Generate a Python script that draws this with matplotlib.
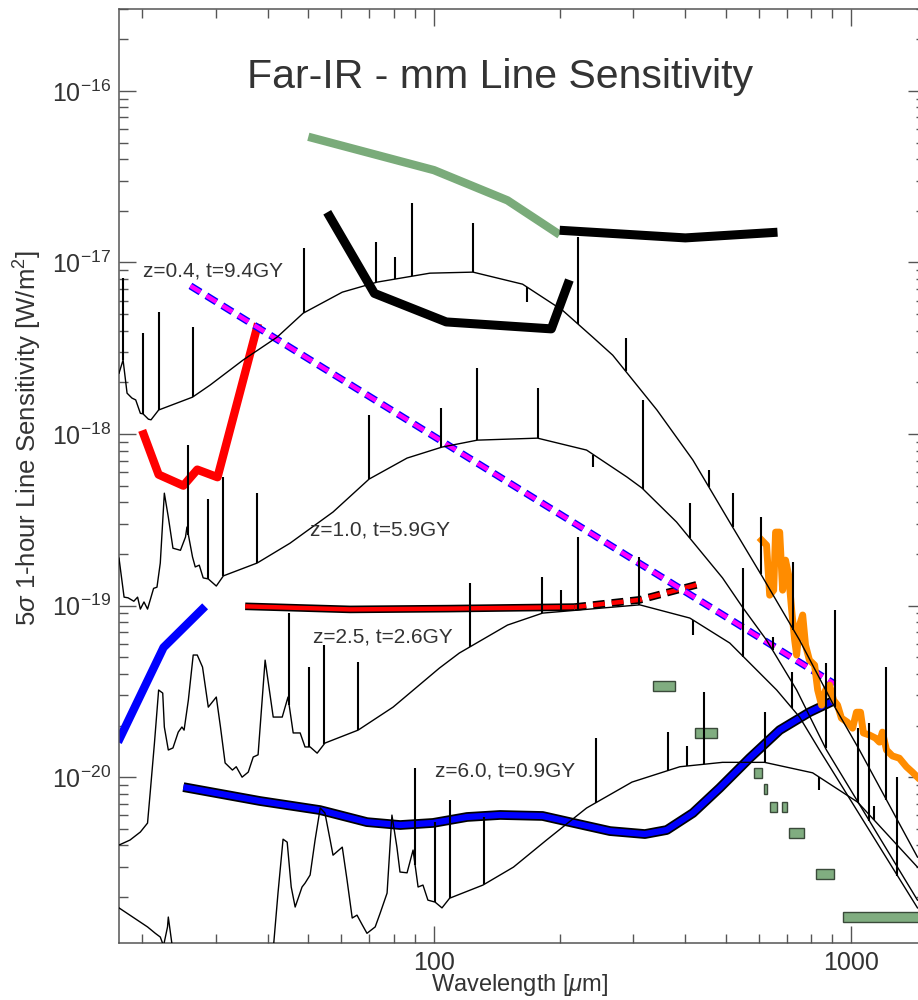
import numpy as np
import matplotlib
matplotlib.use('Agg')
import matplotlib.pyplot as plt
from matplotlib.patches import Rectangle
from matplotlib.ticker import FixedLocator, LogLocator, NullFormatter, FuncFormatter

plt.rcParams['font.family'] = ['Liberation Sans', 'DejaVu Sans']
plt.rcParams['mathtext.fontset'] = 'custom'
plt.rcParams['mathtext.rm'] = 'Liberation Sans'
plt.rcParams['mathtext.it'] = 'Liberation Sans:italic'
plt.rcParams['mathtext.bf'] = 'Liberation Sans:bold'
plt.rcParams['lines.scale_dashes'] = False

# model galaxy SEDs: continuum (wavelength [um], flux [W/m^2]) + line tips
z04_wl = [17.6, 18.0, 18.4, 18.9, 19.3, 19.8, 20.1, 20.7, 21.0, 21.9, 26.4, 29.1, 34.9, 42.1, 48.6,
          60.3, 73.1, 97.8, 124, 163, 203, 240, 268, 342, 417, 519, 612, 751, 901, 1045, 1439]
z04_f = [2.26e-18, 2.70e-18, 1.73e-18, 1.62e-18, 1.58e-18, 1.32e-18, 1.31e-18, 1.22e-18, 1.21e-18,
         1.38e-18, 1.64e-18, 1.93e-18, 2.70e-18, 3.67e-18, 5.06e-18, 6.71e-18, 7.68e-18, 8.66e-18,
         8.78e-18, 7.47e-18, 5.27e-18, 3.67e-18, 2.88e-18, 1.38e-18, 7.05e-19, 2.87e-19, 1.47e-19,
         6.29e-20, 2.70e-20, 1.44e-20, 3.42e-21]
z04_line_wl = [18.0, 20.1, 22.0, 26.4, 48.9, 72.6, 80.7, 88.6, 124, 167, 221, 288, 455, 519, 606,
               726, 911, 1213]
z04_line_f = [8.10e-18, 3.87e-18, 5.13e-18, 4.20e-18, 1.21e-17, 1.31e-17, 1.07e-17, 2.22e-17,
              1.69e-17, 5.87e-18, 1.40e-17, 3.62e-18, 6.16e-19, 4.52e-19, 3.28e-19, 1.79e-19,
              9.42e-20, 4.38e-20]

z10_wl = [17.6, 18.1, 18.5, 19.1, 19.5, 19.8, 20.2, 20.6, 21.3, 21.7, 22.1, 22.6, 23.1, 23.7, 24.7,
          25.4, 25.6, 26.4, 26.8, 27.4, 28.0, 28.8, 30.1, 31.3, 37.7, 45.2, 57.3, 69.9, 86.2, 104.5,
          127, 177, 232, 290, 315, 381, 491, 548, 626, 739, 871, 1439]
z10_f = [1.89e-19, 1.12e-19, 1.11e-19, 1.06e-19, 1.12e-19, 9.54e-20, 1.05e-19, 9.54e-20, 1.26e-19,
         1.28e-19, 1.77e-19, 4.52e-19, 3.28e-19, 2.16e-19, 2.10e-19, 2.51e-19, 2.87e-19, 1.92e-19,
         1.68e-19, 1.72e-19, 1.45e-19, 1.43e-19, 1.30e-19, 1.49e-19, 1.77e-19, 2.31e-19, 3.51e-19,
         5.46e-19, 7.24e-19, 8.39e-19, 9.21e-19, 9.46e-19, 8.06e-19, 5.61e-19, 4.84e-19, 3.07e-19,
         1.45e-19, 9.80e-20, 6.29e-20, 3.22e-20, 1.44e-20, 1.92e-21]
z10_line_wl = [25.8, 28.8, 31.3, 37.7, 69.9, 104, 127, 177, 241, 316, 410, 647, 867, 1104]
z10_line_f = [8.61e-19, 4.17e-19, 5.61e-19, 4.52e-19, 1.29e-18, 1.42e-18, 2.42e-18, 1.85e-18,
              6.42e-19, 1.58e-18, 3.96e-19, 6.55e-20, 4.62e-20, 2.07e-20]

z25_wl = [17.6, 18.7, 19.8, 20.6, 20.9, 21.4, 21.9, 22.4, 22.6, 23.1, 23.7, 24.4, 24.9, 25.2, 25.8,
          26.5, 27.1, 27.9, 28.8, 30.1, 30.8, 31.6, 32.9, 33.6, 34.7, 35.9, 36.9, 37.9, 39.4, 41.2,
          43.3, 44.7, 46.0, 47.8, 49.1, 50.5, 52.5, 54.8, 65.8, 79.8, 103, 115, 150, 182, 311, 410,
          511, 662, 751, 838, 1439]
z25_f = [4.02e-21, 4.30e-21, 4.79e-21, 5.40e-21, 8.08e-21, 1.58e-20, 3.22e-20, 3.09e-20, 1.96e-20,
         1.44e-20, 1.48e-20, 1.83e-20, 1.96e-20, 1.88e-20, 2.81e-20, 5.15e-20, 5.15e-20, 4.38e-20,
         2.56e-20, 2.93e-20, 1.96e-20, 1.21e-20, 1.10e-20, 1.15e-20, 1.00e-20, 1.07e-20, 1.31e-20,
         1.35e-20, 4.81e-20, 2.24e-20, 2.24e-20, 2.93e-20, 1.81e-20, 1.81e-20, 1.50e-20, 1.50e-20,
         1.38e-20, 1.58e-20, 1.88e-20, 2.56e-20, 4.32e-20, 5.29e-20, 7.70e-20, 9.04e-20, 1.01e-19,
         8.46e-20, 6.05e-20, 3.22e-20, 2.24e-20, 1.44e-20, 1.73e-21]
z25_line_wl = [45.0, 50.2, 54.6, 65.8, 122, 181, 201, 221, 309, 417, 551, 719, 1288]
z25_line_f = [9.04e-20, 4.38e-20, 5.89e-20, 4.68e-20, 1.35e-19, 1.47e-19, 1.23e-19, 2.51e-19,
              1.92e-19, 6.72e-20, 1.65e-19, 4.10e-20, 1.00e-20]

z60_wl = [17.6, 20.6, 21.5, 22.1, 22.5, 23.0, 23.1, 23.6, 30.0, 41.0, 42.3, 43.5, 44.5, 45.5, 46.5,
          48.3, 49.1, 50.5, 51.9, 53.4, 54.8, 56.4, 57.3, 60.3, 61.9, 63.7, 65.4, 67.3, 69.1, 72.3,
          74.3, 77.2, 79.3, 81.5, 82.9, 86.2, 89.1, 91.6, 94.1, 96.7, 100.6, 104.5, 109, 131, 155,
          186, 232, 298, 388, 491, 619, 807, 1034, 1439]
z60_f = [1.73e-21, 1.34e-21, 1.23e-21, 1.17e-21, 1.04e-21, 1.34e-21, 1.53e-21, 1.04e-21, 6e-22,
         8.6e-22, 2.11e-21, 4.35e-21, 4.18e-21, 2.29e-21, 1.75e-21, 2.29e-21, 2.41e-21, 2.69e-21,
         4.30e-21, 6.61e-21, 6.18e-21, 4.30e-21, 3.51e-21, 3.91e-21, 2.52e-21, 1.51e-21, 1.57e-21,
         1.38e-21, 1.23e-21, 1.34e-21, 1.61e-21, 2.11e-21, 6.01e-21, 3.91e-21, 2.80e-21, 2.77e-21,
         3.76e-21, 2.29e-21, 2.35e-21, 1.92e-21, 1.87e-21, 1.73e-21, 1.97e-21, 2.35e-21, 2.99e-21,
         4.30e-21, 6.61e-21, 9.36e-21, 1.15e-20, 1.22e-20, 1.22e-20, 1.06e-20, 7.16e-21, 2.99e-21]
z60_line_wl = [90.1, 100.6, 109, 132, 244, 363, 403, 443, 619, 834, 1039, 1135]
z60_line_f = [1.13e-20, 5.47e-21, 7.35e-21, 5.85e-21, 1.69e-20, 1.83e-20, 1.52e-20, 3.13e-20,
              2.39e-20, 8.41e-21, 1.93e-20, 6.82e-21]

# instrument sensitivities
green_wl = [50, 100, 150, 200]
green_f = [5.4e-17, 3.45e-17, 2.3e-17, 1.45e-17]
blk_hi_wl = [200, 400, 665]
blk_hi_f = [1.54e-17, 1.39e-17, 1.50e-17]
blk_lo_wl = [55.5, 72, 107, 191, 211]
blk_lo_f = [1.96e-17, 6.6e-18, 4.5e-18, 4.1e-18, 7.9e-18]
red_wl = [20.0, 21.9, 25.1, 27.1, 30.3, 37.9]
red_f = [1.05e-18, 5.8e-19, 5.0e-19, 6.2e-19, 5.6e-19, 4.4e-18]
blue_wl = [17.5, 22.5, 28.3]
blue_f = [1.6e-20, 5.7e-20, 9.9e-20]
redk_wl = [35.3, 63, 108, 217]
redk_f = [9.9e-20, 9.5e-20, 9.6e-20, 9.8e-20]
redk_dash_wl = [217, 311, 430]
redk_dash_f = [9.8e-20, 1.08e-19, 1.33e-19]
mag_wl = [26.1, 910]
mag_f = [7.3e-18, 3.5e-20]
bluek_wl = [25.1, 38.3, 53.3, 69.1, 83.0, 99.5, 120, 144, 182, 211.5, 264, 320, 361, 417, 483,
            570, 673, 793, 901]
bluek_f = [8.75e-21, 7.26e-21, 6.43e-21, 5.47e-21, 5.26e-21, 5.41e-21, 5.86e-21, 6.02e-21,
           5.94e-21, 5.47e-21, 4.85e-21, 4.66e-21, 4.92e-21, 6.18e-21, 8.63e-21, 1.29e-20,
           1.88e-20, 2.39e-20, 2.77e-20]
orange_wl = [609, 626, 637, 651, 658, 673, 684, 695, 707, 719, 731, 739, 751, 764, 776, 793, 816,
             830, 848, 867, 886, 906, 926, 946, 978, 1006, 1028, 1051, 1068, 1104, 1141, 1167,
             1186, 1213, 1253, 1302, 1354, 1399, 1439]
orange_f = [2.41e-19, 2.25e-19, 1.15e-19, 1.23e-19, 2.68e-19, 2.68e-19, 1.23e-19, 1.84e-19,
            1.51e-19, 9.42e-20, 6.29e-20, 5.15e-20, 7.70e-20, 8.81e-20, 5.89e-20, 4.81e-20,
            4.50e-20, 3.22e-20, 2.63e-20, 3.22e-20, 3.44e-20, 2.81e-20, 2.63e-20, 2.21e-20,
            2.09e-20, 1.93e-20, 2.39e-20, 2.39e-20, 1.81e-20, 1.76e-20, 1.69e-20, 1.60e-20,
            1.83e-20, 1.44e-20, 1.33e-20, 1.29e-20, 1.15e-20, 1.07e-20, 1.00e-20]
band_lo = [334, 421, 583, 616, 637, 680, 707, 820, 952]
band_hi = [377, 475, 609, 626, 662, 699, 768, 906, 1600]
band_f = [3.40e-20, 1.81e-20, 1.06e-20, 8.52e-21, 6.69e-21, 6.69e-21, 4.72e-21, 2.71e-21, 1.54e-21]

ytick_vals = [1e-20, 1e-19, 1e-18, 1e-17, 1e-16]
xtick_vals = [100, 1000]

fig = plt.figure(figsize=(9.18, 10), dpi=100)
ax = fig.add_axes([119/918, 57/1000, 806/918, 934/1000])
ax.set_xscale('log')
ax.set_yscale('log')
ax.set_xlim(17.6, 1500)
ax.set_ylim(1.08e-21, 3.0e-16)

# thick instrument curves
ax.plot(green_wl, green_f, color='#7aab7a', lw=6, solid_capstyle='butt', zorder=2)
ax.plot(blk_hi_wl, blk_hi_f, color='k', lw=6.5, solid_capstyle='butt', zorder=2)
ax.plot(blk_lo_wl, blk_lo_f, color='k', lw=6.5, solid_capstyle='butt', zorder=2)
ax.plot(red_wl, red_f, color='#ff0000', lw=6, solid_capstyle='butt', zorder=2)
ax.plot(blue_wl, blue_f, color='#0000ff', lw=6, solid_capstyle='butt', zorder=2)

ax.plot(redk_wl, redk_f, color='k', lw=5.5, solid_capstyle='butt', zorder=2)
ax.plot(redk_wl, redk_f, color='#ff0000', lw=3.2, solid_capstyle='butt', zorder=2)
ax.plot(redk_dash_wl, redk_dash_f, color='k', lw=5.5, dashes=(8.5, 5), zorder=2)
ax.plot(redk_dash_wl, redk_dash_f, color='#ff0000', lw=3.2, dashes=(8.5, 5), zorder=2)

ax.plot(mag_wl, mag_f, color='#0000ff', lw=5.2, dashes=(8.5, 5), zorder=2)
ax.plot(mag_wl, mag_f, color='#ff00ff', lw=3.2, dashes=(8.5, 5), zorder=2)

ax.plot(bluek_wl, bluek_f, color='k', lw=7, solid_capstyle='butt', zorder=2)
ax.plot(bluek_wl, bluek_f, color='#0000ff', lw=4.5, solid_capstyle='butt', zorder=2)

ax.plot(orange_wl, orange_f, color='#ff8c00', lw=5, zorder=2)

for lo, hi, f in zip(band_lo, band_hi, band_f):
    ax.add_patch(Rectangle((lo, f / 1.07), hi - lo, f * 1.07 - f / 1.07,
                           facecolor='#80ad80', edgecolor='#3a4a3a', lw=1.0, zorder=2))

# thin model SEDs with emission lines
def sed(wl, f, lwl, lf):
    ax.plot(wl, f, color='k', lw=1.0, zorder=4)
    base = 10 ** np.interp(np.log10(lwl), np.log10(wl), np.log10(f))
    ax.vlines(lwl, base, lf, color='k', lw=1.5, zorder=4)

sed(z04_wl, z04_f, z04_line_wl, z04_line_f)
sed(z10_wl, z10_f, z10_line_wl, z10_line_f)
sed(z25_wl, z25_f, z25_line_wl, z25_line_f)
sed(z60_wl, z60_f, z60_line_wl, z60_line_f)

# axes styling
for s in ax.spines.values():
    s.set_color('#555555')
    s.set_linewidth(1.1)
ax.xaxis.set_major_locator(FixedLocator(xtick_vals))
ax.xaxis.set_major_formatter(FuncFormatter(lambda v, p: '%g' % v))
ax.xaxis.set_minor_locator(LogLocator(base=10, subs=np.arange(2, 10), numticks=20))
ax.xaxis.set_minor_formatter(NullFormatter())
ax.yaxis.set_major_locator(FixedLocator(ytick_vals))
ax.yaxis.set_major_formatter(FuncFormatter(lambda v, p: r'$10^{%d}$' % round(np.log10(v))))
ax.yaxis.set_minor_locator(LogLocator(base=10, subs=np.arange(2, 10), numticks=20))
ax.yaxis.set_minor_formatter(NullFormatter())
ax.tick_params(which='both', direction='in', top=True, right=True, color='#555555',
               labelcolor='#333333', labelsize=18, width=1.0)
ax.tick_params(which='major', length=12.5, pad=6)
ax.tick_params(which='minor', length=6.5)

fig.text(500/918, 1 - 77/1000, 'Far-IR - mm Line Sensitivity', fontsize=29.5, color='#333333',
         ha='center', va='center')
fig.text(143/918, 1 - 271/1000, 'z=0.4, t=9.4GY', fontsize=15, color='#333333', va='center')
fig.text(310/918, 1 - 530/1000, 'z=1.0, t=5.9GY', fontsize=15, color='#333333', va='center')
fig.text(313/918, 1 - 637/1000, 'z=2.5, t=2.6GY', fontsize=15, color='#333333', va='center')
fig.text(435/918, 1 - 771/1000, 'z=6.0, t=0.9GY', fontsize=15, color='#333333', va='center')
fig.text(28/918, 1 - 438/1000, r'5$\sigma$ 1-hour Line Sensitivity [W/m$^2$]', fontsize=18.5,
         color='#333333', rotation=90, ha='center', va='center')
fig.text(520/918, 1 - 998/1000, r'Wavelength [$\mu$m]', fontsize=17, color='#333333',
         ha='center', va='bottom')

fig.savefig('out.png', dpi=100)
